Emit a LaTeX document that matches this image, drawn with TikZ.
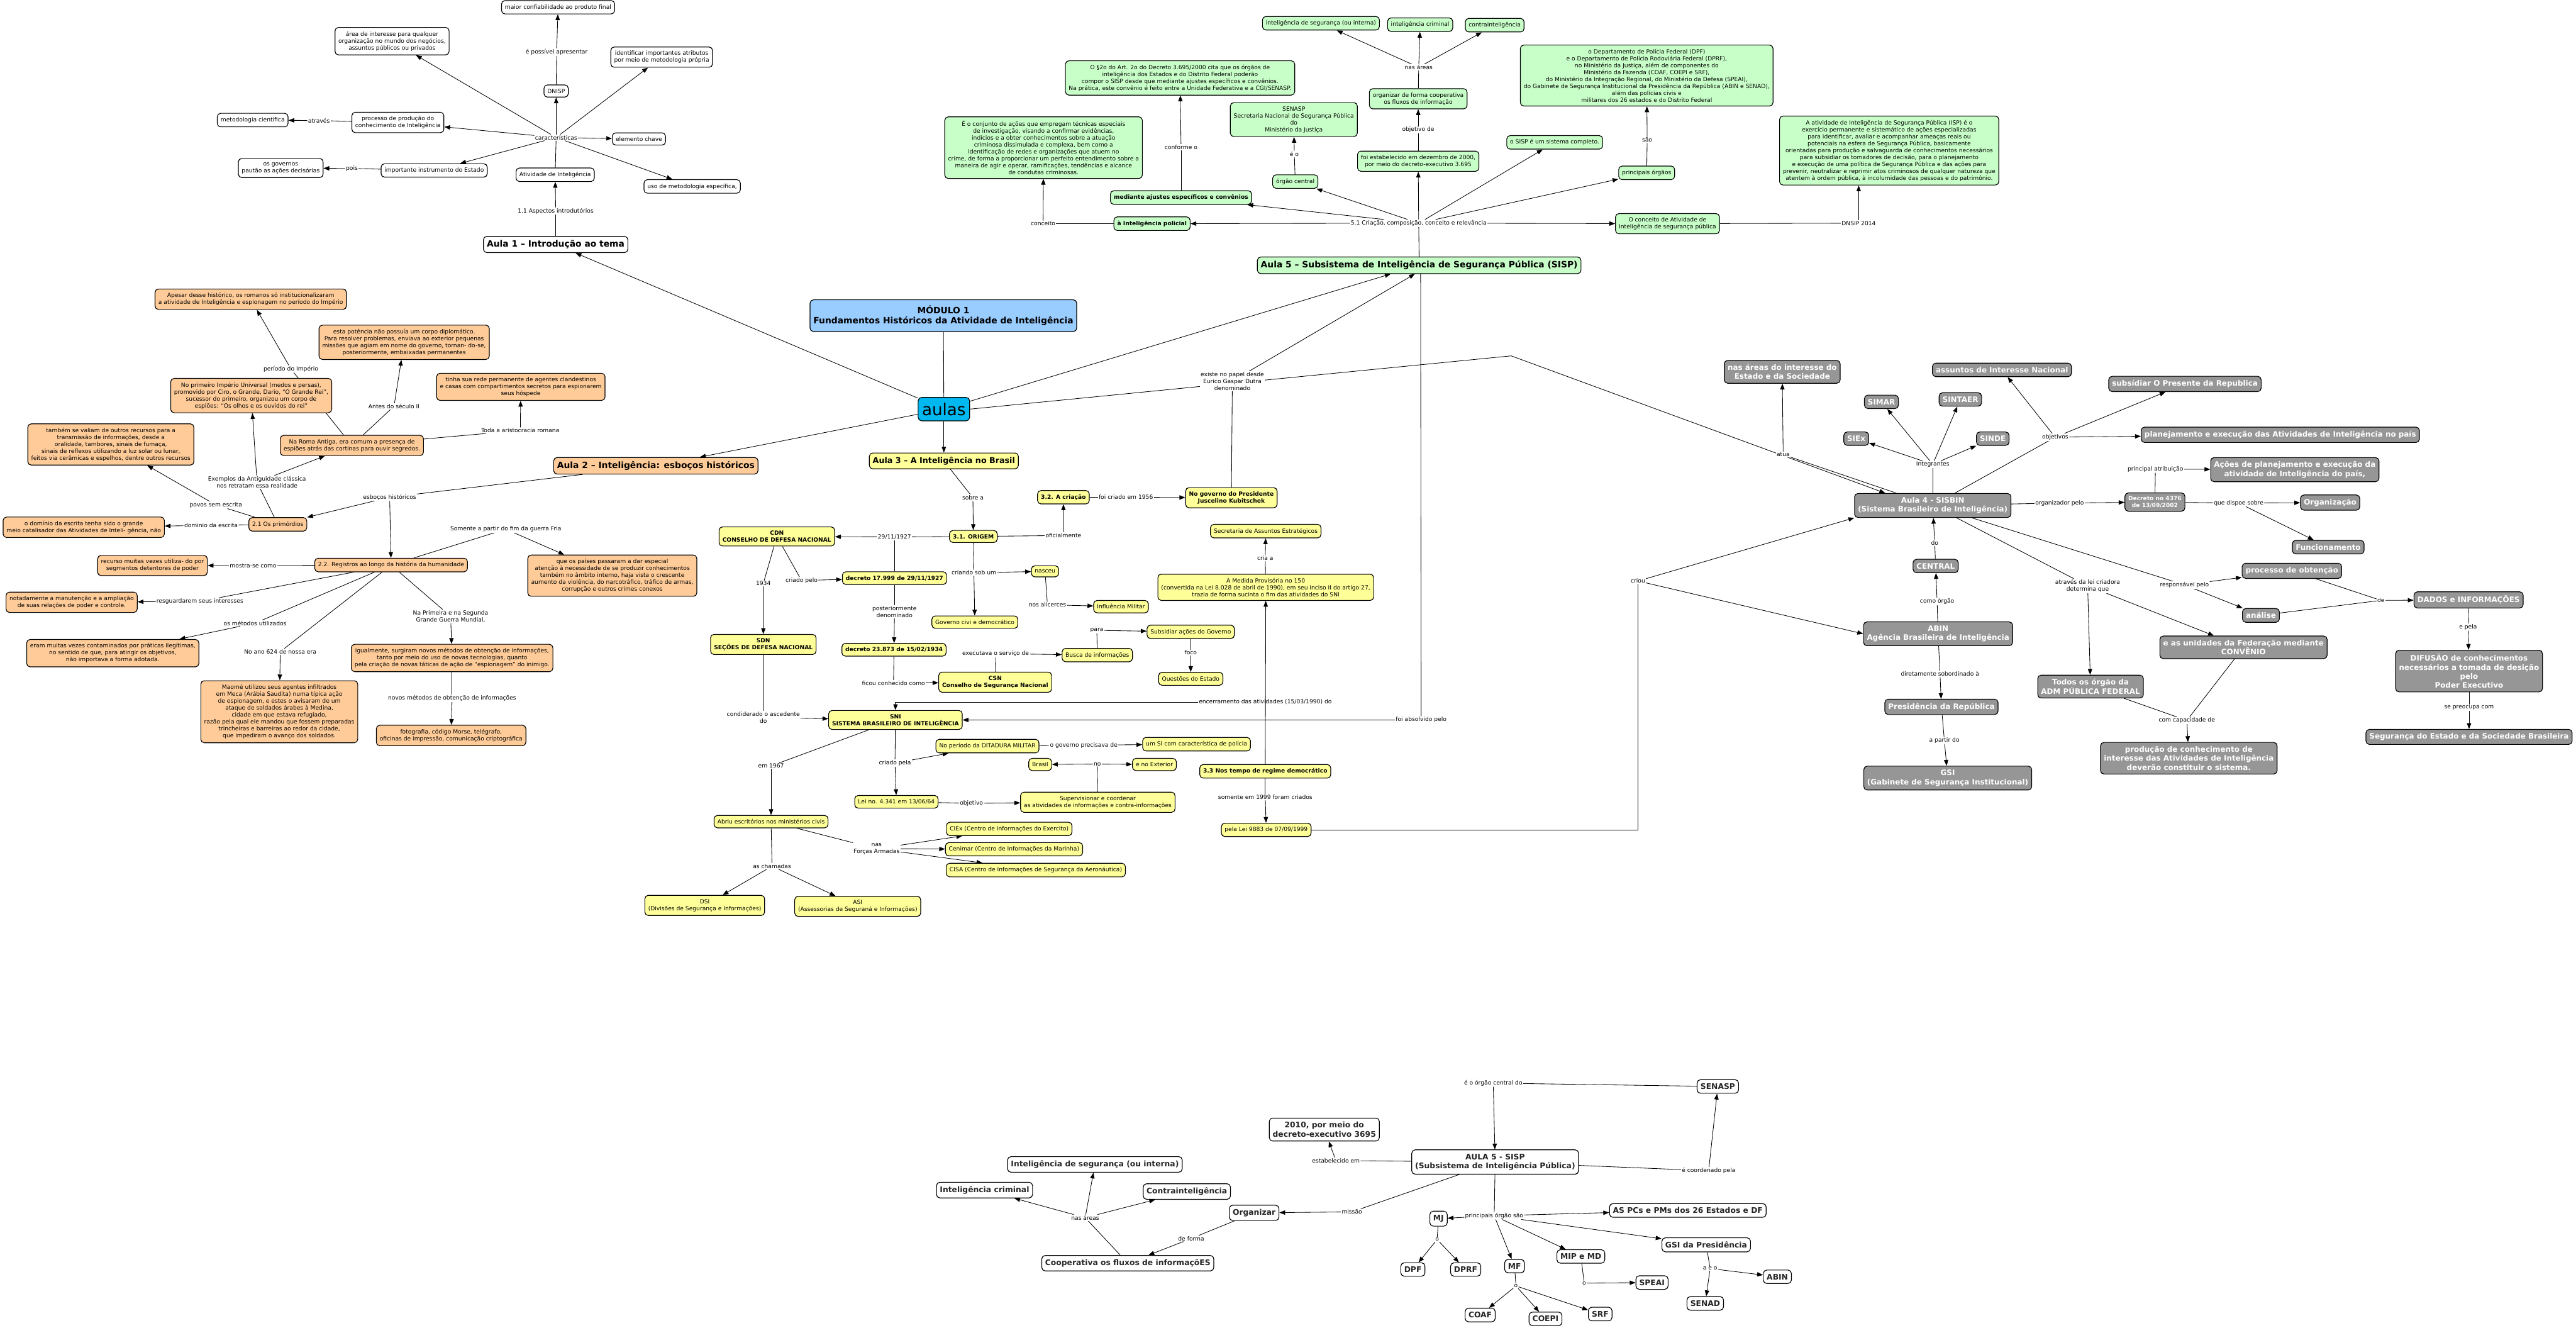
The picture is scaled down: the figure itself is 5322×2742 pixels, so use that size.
\documentclass[tikz,border=0pt]{standalone}
\usepackage{fontspec}
\setmainfont{DejaVu Sans}
\usetikzlibrary{arrows.meta,backgrounds}
\definecolor{cgreen}{HTML}{C8FFC8}
\definecolor{corange}{HTML}{FFCC99}
\definecolor{cyellow}{HTML}{FFFF99}
\definecolor{cgray}{HTML}{969696}
\definecolor{cblue}{HTML}{99CCFF}
\definecolor{ccyan}{HTML}{00B8F0}
\newcommand\fsS{\fontsize{11.9}{14.3}\selectfont}
\newcommand\fsT{\fontsize{18}{21}\selectfont\bfseries}
\newcommand\fsG{\fontsize{15.5}{18.5}\selectfont\bfseries}
\newcommand\fsB{\fontsize{16}{19}\selectfont\bfseries}
\newcommand\fsD{\fontsize{11.8}{14}\selectfont\bfseries}
\newcommand\cnL[2]{\draw[ln] (#1) -- (#2);}
\newcommand\cnA[2]{\draw[ar] (#1) -- (#2);}
\tikzset{
 cbox/.style={draw=black, rounded corners=7pt, line width=1.5pt, align=center, inner xsep=7pt, inner ysep=8pt, font=\fsS},
 wb/.style={cbox, fill=white},
 gb/.style={cbox, fill=cgreen},
 ob/.style={cbox, fill=corange},
 yb/.style={cbox, fill=cyellow},
 grb/.style={cbox, fill=cgray, text=white, font=\fsG},
 bb/.style={cbox, fill=white, font=\fsB, text=black!85},
 ttl/.style={font=\fsT},
 lb/.style={fill=white, inner sep=1.5pt, align=center, font=\fsS},
 ln/.style={line width=1.1pt},
 ar/.style={line width=1.1pt, -{Triangle[length=12pt,width=9pt]}},
}
\begin{document}
\begin{tikzpicture}[x=1pt,y=-1pt]
\useasboundingbox (0,0) rectangle (5322,2742);
% ---------------- centre
\node[cbox,fill=cblue,font=\fsT,inner ysep=12pt] (mod) at (1949,652) {MÓDULO 1\\Fundamentos Históricos da Atividade de Inteligência};
\node[cbox,fill=ccyan,font=\fontsize{34}{40}\selectfont,inner xsep=8pt,inner ysep=11pt] (aulas) at (1950,845) {aulas};
% ---------------- Aula 1
\node[wb,ttl] (a1) at (1148,505) {Aula 1 – Introdução ao tema};
\node[wb] (a1atv) at (1147,361) {Atividade de Inteligência};
\node[lb] (a1l11) at (1148,436) {1.1 Aspectos introdutórios};
\node[lb] (a1car) at (1149,284) {características};
\node[wb] (a1dnisp) at (1149,188) {DNISP};
\node[lb] (a1lposs) at (1150,108) {é possível apresentar};
\node[wb] (a1maior) at (1153,15) {maior confiabilidade ao produto final};
\node[wb] (a1ident) at (1367,118) {identificar importantes atributos\\por meio de metodologia própria};
\node[wb] (a1elem) at (1320,287) {elemento chave};
\node[wb] (a1uso) at (1430,385) {uso de metodologia específica,};
\node[wb] (a1imp) at (897,352) {importante instrumento do Estado};
\node[wb] (a1proc) at (822,253) {processo de produção do\\conhecimento de Inteligência};
\node[wb] (a1area) at (810,85) {área de interesse para qualquer\\organização no mundo dos negócios,\\assuntos públicos ou privados};
\node[wb] (a1met) at (522,248) {metodologia científica};
\node[lb] (a1latr) at (659,249) {através};
\node[wb] (a1gov) at (580,347) {os governos\\pautão as ações decisórias};
\node[lb] (a1lpois) at (727,348) {pois};
% ---------------- Aula 2
\node[ob,ttl] (a2) at (1355,962) {Aula 2 – Inteligência: esboços históricos};
\node[lb] (a2lesb) at (805,1027) {esboços históricos};
\node[ob] (a21) at (574,1083) {2.1 Os primórdios};
\node[ob] (a22) at (808,1167) {2.2. Registros ao longo da história da humanidade};
\node[ob] (a2dom) at (173,1089) {o domínio da escrita tenha sido o grande\\meio catalisador das Atividades de Inteli- gência, não};
\node[lb] (a2ldom) at (436,1085) {dominio da escrita};
\node[lb] (a2lpovos) at (446,1043) {povos sem escrita};
\node[ob] (a2tamb) at (229,918) {também se valiam de outros recursos para a\\transmissão de informações, desde a\\oralidade, tambores, sinais de fumaça,\\sinais de reflexos utilizando a luz solar ou lunar,\\feitos via cerâmicas e espelhos, dentre outros recursos};
\node[lb] (a2lex) at (531,996) {Exemplos da Antiguidade clássica\\nos retratam essa realidade};
\node[ob] (a2prim) at (519,817) {No primeiro Império Universal (medos e persas),\\promovido por Ciro, o Grande, Dario, “O Grande Rei”,\\sucessor do primeiro, organizou um corpo de\\espiões: “Os olhos e os ouvidos do rei”};
\node[ob] (a2roma) at (727,920) {Na Roma Antiga, era comum a presença de\\espiões atrás das cortinas para ouvir segredos.};
\node[lb] (a2lper) at (601,762) {período do Império};
\node[ob] (a2apesar) at (518,618) {Apesar desse histórico, os romanos só institucionalizaram\\a atividade de Inteligência e espionagem no período do Império};
\node[lb] (a2lantes) at (814,839) {Antes do século II};
\node[ob] (a2esta) at (835,707) {esta potência não possuía um corpo diplomático.\\Para resolver problemas, enviava ao exterior pequenas\\missões que agiam em nome do governo, tornan- do-se,\\posteriormente, embaixadas permanentes};
\node[lb] (a2ltoda) at (1075,889) {Toda a aristocracia romana};
\node[ob] (a2tinha) at (1076,799) {tinha sua rede permanente de agentes clandestinos\\e casas com compartimentos secretos para espionarem\\seus hóspede};
\node[lb] (a2lsom) at (1045,1093) {Somente a partir do fim da guerra Fria};
\node[ob] (a2que) at (1265,1189) {que os países passaram a dar especial\\atenção à necessidade de se produzir conhecimentos\\também no âmbito interno, haja vista o crescente\\aumento da violência, do narcotráfico, tráfico de armas,\\corrupção e outros crimes conexos};
\node[ob] (a2rec) at (315,1168) {recurso muitas vezes utiliza- do por\\segmentos detentores de poder};
\node[lb] (a2lmos) at (523,1168) {mostra-se como};
\node[ob] (a2not) at (148,1244) {notadamente a manutenção e a ampliação\\de suas relações de poder e controle.};
\node[lb] (a2lres) at (413,1242) {resguardarem seus interesses};
\node[lb] (a2lmet) at (527,1287) {os métodos utilizados};
\node[ob] (a2eram) at (233,1349) {eram muitas vezes contaminados por práticas ilegítimas,\\no sentido de que, para atingir os objetivos,\\não importava a forma adotada.};
\node[lb] (a2l624) at (579,1346) {No ano 624 de nossa era};
\node[ob] (a2maome) at (577,1470) {Maomé utilizou seus agentes infiltrados\\em Meca (Arábia Saudita) numa típica ação\\de espionagem, e estes o avisaram de um\\ataque de soldados árabes à Medina,\\cidade em que estava refugiado,\\razão pela qual ele mandou que fossem preparadas\\trincheiras e barreiras ao redor da cidade,\\que impediram o avanço dos soldados.};
\node[lb] (a2lguerra) at (931,1273) {Na Primeira e na Segunda\\Grande Guerra Mundial,};
\node[ob] (a2igual) at (934,1359) {igualmente, surgiram novos métodos de obtenção de informações,\\tanto por meio do uso de novas tecnologias, quanto\\pela criação de novas táticas de ação de “espionagem” do inimigo.};
\node[lb] (a2lnovos) at (934,1442) {novos métodos de obtenção de informações};
\node[ob] (a2foto) at (932,1519) {fotografia, código Morse, telégrafo,\\oficinas de impressão, comunicação criptográfica};
% ---------------- Aula 3
\node[yb,font=\fontsize{16.5}{20}\selectfont\bfseries] (a3) at (1950,952) {Aula 3 – A Inteligência no Brasil};
\node[lb] (a3lsob) at (2010,1028) {sobre a};
\node[yb,font=\fsS\bfseries] (a31) at (2011,1108) {3.1. ORIGEM};
\node[yb,font=\fsS\bfseries] (a32) at (2197,1027) {3.2. A criação};
\node[lb] (a3lofi) at (2197,1106) {oficialmente};
\node[lb] (a3lfoi) at (2326,1027) {foi criado em 1956};
\node[yb,font=\fsS\bfseries] (a3jk) at (2544,1028) {No governo do Presidente\\Juscelino Kubitschek};
\node[yb,font=\fsS\bfseries] (a3cdn) at (1605,1108) {CDN\\CONSELHO DE DEFESA NACIONAL};
\node[lb] (a3l29) at (1848,1109) {29/11/1927};
\node[yb,font=\fsS\bfseries] (a3d17) at (1848,1194) {decreto 17.999 de 29/11/1927};
\node[lb] (a3lcri) at (1656,1199) {criado pelo};
\node[lb] (a3l1934) at (1577,1205) {1934};
\node[yb,font=\fsS\bfseries] (a3sdn) at (1577,1331) {SDN\\SEÇÕES DE DEFESA NACIONAL};
\node[lb] (a3lpost) at (1848,1264) {posteriormente\\denominado};
\node[yb,font=\fsS\bfseries] (a3d23) at (1847,1342) {decreto 23.873 de 15/02/1934};
\node[lb] (a3lfic) at (1846,1411) {ficou conhecido como};
\node[yb,font=\fsS\bfseries] (a3csn) at (2056,1409) {CSN\\Conselho de Segurança Nacional};
\node[lb] (a3lexe) at (2057,1350) {executava o serviço de};
\node[yb] (a3busca) at (2267,1353) {Busca de informações};
\node[lb] (a3lpara) at (2266,1302) {para};
\node[yb] (a3sub) at (2460,1305) {Subsidiar ações do Governo};
\node[lb] (a3lfoco) at (2460,1348) {foco};
\node[yb] (a3quest) at (2460,1402) {Questões do Estado};
\node[lb] (a3lcria) at (2012,1183) {criando sob um};
\node[yb] (a3nasc) at (2159,1180) {nasceu};
\node[yb] (a3gov) at (2014,1285) {Governo civi e democrático};
\node[lb] (a3lalic) at (2164,1249) {nos alicerces};
\node[yb] (a3infl) at (2316,1253) {Influência Militar};
\node[yb,font=\fsS\bfseries] (a3sni) at (1850,1487) {SNI\\SISTEMA BRASILEIRO DE INTELIGÊNCIA};
\node[lb] (a3lasc) at (1577,1482) {condiderado o ascedente\\do};
\node[lb] (a3l1967) at (1593,1582) {em 1967};
\node[yb] (a3abriu) at (1593,1697) {Abriu escritórios nos ministérios civis};
\node[lb] (a3lcriada) at (1849,1576) {criado pela};
\node[yb] (a3dit) at (2040,1541) {No período da DITADURA MILITAR};
\node[lb] (a3lgovp) at (2239,1539) {o governo precisava de};
\node[yb] (a3si) at (2472,1537) {um SI com característica de polícia};
\node[yb] (a3lei) at (1852,1656) {Lei no. 4.341 em 13/06/64};
\node[lb] (a3lobj) at (2007,1659) {objetivo};
\node[yb] (a3sup) at (2268,1657) {Supervisionar e coordenar\\as atividades de informações e contra-informações};
\node[lb] (a3lno) at (2267,1578) {no};
\node[yb] (a3bras) at (2149,1579) {Brasil};
\node[yb] (a3ext) at (2385,1579) {e no Exterior};
\node[lb] (a3lforc) at (1811,1753) {nas\\Forças Armadas};
\node[yb] (a3ciex) at (2085,1712) {CIEx (Centro de Informações do Exercito)};
\node[yb] (a3cen) at (2095,1754) {Cenimar (Centro de Informações da Marinha)};
\node[yb] (a3cisa) at (2140,1797) {CISA (Centro de Informações de Segurança da Aeronáutica)};
\node[lb] (a3lcham) at (1595,1789) {as chamadas};
\node[yb] (a3dsi) at (1456,1870) {DSI\\(Divisões de Segurança e Informações)};
\node[yb] (a3asi) at (1772,1872) {ASI\\(Assessorias de Seguraná e Informações)};
\node[yb] (a3sae) at (2615,1097) {Secretaria de Assuntos Estratégicos};
\node[lb] (a3lcriaa) at (2614,1153) {cria a};
\node[yb] (a3mp) at (2615,1213) {A Medida Provisória no 150\\(convertida na Lei 8.028 de abril de 1990), em seu inciso II do artigo 27,\\trazia de forma sucinta o fim das atividades do SNI};
\node[lb,fill=none] (a3lenc) at (2614,1450) {encerramento das atividades (15/03/1990) do};
\node[yb,font=\fsS\bfseries] (a33) at (2614,1593) {3.3 Nos tempo de regime democrático};
\node[lb] (a3lsom) at (2614,1646) {somente em 1999 foram criados};
\node[yb] (a3lei99) at (2616,1714) {pela Lei 9883 de 07/09/1999};
\node[lb] (a5lexiste) at (2546,787) {existe no papel desde\\Eurico Gaspar Dutra\\denominado};
% ---------------- Aula 5
\node[gb,ttl] (a5) at (2932,548) {Aula 5 – Subsistema de Inteligência de Segurança Pública (SISP)};
\node[lb] (a5l51) at (2931,461) {5.1 Criação, composição, conceito e relevância};
\node[gb,font=\fsS\bfseries] (a5pol) at (2380,462) {à Inteligência policial};
\node[lb] (a5lconc) at (2155,462) {conceito};
\node[gb] (a5conj) at (2156,305) {É o conjunto de ações que empregam técnicas especiais\\de investigação, visando a confirmar evidências,\\indícios e a obter conhecimentos sobre a atuação\\criminosa dissimulada e complexa, bem como a\\identificação de redes e organizações que atuem no\\crime, de forma a proporcionar um perfeito entendimento sobre a\\maneira de agir e operar, ramificações, tendências e alcance\\de condutas criminosas.};
\node[gb,font=\fsS\bfseries] (a5med) at (2440,408) {mediante ajustes específicos e convênios};
\node[lb] (a5lconf) at (2440,304) {conforme o};
\node[gb] (a5par) at (2438,161) {O §2o do Art. 2o do Decreto 3.695/2000 cita que os órgãos de\\inteligência dos Estados e do Distrito Federal poderão\\compor o SISP desde que mediante ajustes específicos e convênios.\\Na prática, este convênio é feito entre a Unidade Federativa e a CGI/SENASP.};
\node[gb] (a5orgc) at (2676,375) {órgão central};
\node[lb] (a5leo) at (2674,318) {é o};
\node[gb] (a5senasp) at (2673,247) {SENASP\\Secretaria Nacional de Segurança Pública\\do\\Ministério da Justiça};
\node[gb] (a5est) at (2930,333) {foi estabelecido em dezembro de 2000,\\por meio do decreto-executivo 3.695};
\node[lb] (a5lobj) at (2930,268) {objetivo de};
\node[gb] (a5org) at (2930,204) {organizar de forma cooperativa\\os fluxos de informação};
\node[lb] (a5lnas) at (2931,139) {nas áreas};
\node[gb] (a5iseg) at (2729,48) {inteligência de segurança (ou interna)};
\node[gb] (a5icrim) at (2934,51) {inteligência criminal};
\node[gb] (a5contra) at (3088,52) {contrainteligência};
\node[gb] (a5sisp) at (3212,294) {o SISP é um sistema completo.};
\node[gb] (a5princ) at (3402,357) {principais órgãos};
\node[lb] (a5lsao) at (3403,289) {são};
\node[gb] (a5dep) at (3402,156) {o Departamento de Polícia Federal (DPF)\\e o Departamento de Polícia Rodoviária Federal (DPRF),\\no Ministério da Justiça, além de componentes do\\Ministério da Fazenda (COAF, COEPI e SRF),\\do Ministério da Integração Regional, do Ministério da Defesa (SPEAI),\\do Gabinete de Segurança Institucional da Presidência da República (ABIN e SENAD),\\além das polícias civis e\\militares dos 26 estados e do Distrito Federal};
\node[gb] (a5conc) at (3445,462) {O conceito de Atividade de\\Inteligência de segurança pública};
\node[lb] (a5ldnsip) at (3840,461) {DNSIP 2014};
\node[gb] (a5ativ) at (3903,311) {A atividade de Inteligência de Segurança Pública (ISP) é o\\exercício permanente e sistemático de ações especializadas\\para identificar, avaliar e acompanhar ameaças reais ou\\potenciais na esfera de Segurança Pública, basicamente\\orientadas para produção e salvaguarda de conhecimentos necessários\\para subsidiar os tomadores de decisão, para o planejamento\\e execução de uma política de Segurança Pública e das ações para\\prevenir, neutralizar e reprimir atos criminosos de qualquer natureza que\\atentem à ordem pública, à incolumidade das pessoas e do patrimônio.};
\node[lb] (a5lfoi) at (2936,1487) {foi absolvido pelo};
% ---------------- Aula 4
\node[grb] (a4) at (3993,1044) {Aula 4 - SISBIN\\(Sistema Brasileiro de Inteligência)};
\node[lb] (a4lcriou) at (3384,1200) {criou};
\node[lb] (a4latua) at (3684,939) {atua};
\node[grb] (a4nas) at (3682,768) {nas áreas do interesse do\\Estado e da Sociedade};
\node[lb] (a4lint) at (3993,959) {Integrantes};
\node[grb] (a4siex) at (3835,906) {SIEx};
\node[grb] (a4simar) at (3887,830) {SIMAR};
\node[grb] (a4sintaer) at (4050,825) {SINTAER};
\node[grb] (a4sinde) at (4117,906) {SINDE};
\node[lb] (a4lobj) at (4246,903) {objetivos};
\node[grb] (a4assu) at (4136,764) {assuntos de Interesse Nacional};
\node[grb] (a4subs) at (4514,793) {subsídiar O Presente da Republica};
\node[grb] (a4plan) at (4711,898) {planejamento e execução das Atividades de Inteligência no país};
\node[lb] (a4lorg) at (4255,1039) {organizador pelo};
\node[grb,font=\fsD,inner ysep=7pt] (a4dec) at (4452,1037) {Decreto no 4376\\de 13/09/2002};
\node[lb] (a4lpri) at (4453,969) {principal atribuição};
\node[grb] (a4acoes) at (4741,970) {Ações de planejamento e execução da\\atividade de Inteligência do país,};
\node[lb] (a4lque) at (4625,1039) {que dispoe sobre};
\node[grb] (a4orgz) at (4814,1038) {Organização};
\node[grb] (a4func) at (4810,1130) {Funcionamento};
\node[lb] (a4ldo) at (3997,1121) {do};
\node[grb] (a4cent) at (3999,1169) {CENTRAL};
\node[lb] (a4lcomo) at (4002,1242) {como órgão};
\node[grb] (a4abin) at (4004,1309) {ABIN\\Agência Brasileira de Inteligência};
\node[lb] (a4ldir) at (4008,1392) {diretamente sobordinado à};
\node[grb] (a4pres) at (4011,1460) {Presidência da República};
\node[lb] (a4lapar) at (4017,1529) {a partir do};
\node[grb] (a4gsi) at (4024,1607) {GSI\\(Gabinete de Segurança Institucional)};
\node[lb] (a4latr) at (4313,1210) {através da lei criadora\\determina que};
\node[grb] (a4todos) at (4319,1418) {Todos os órgão da\\ADM PÚBLICA FEDERAL};
\node[grb] (a4unid) at (4635,1337) {e as unidades da Federação mediante\\CONVÊNIO};
\node[lb] (a4lcap) at (4518,1488) {com capacidade de};
\node[grb] (a4prod) at (4522,1566) {produção de conhecimento de\\interesse das Atividades de Inteligência\\deverão constituir o sistema.};
\node[lb] (a4lresp) at (4513,1208) {responsável pelo};
\node[grb] (a4proc) at (4735,1179) {processo de obtenção};
\node[grb] (a4anal) at (4671,1271) {análise};
\node[lb] (a4lde) at (4919,1240) {de};
\node[grb] (a4dados) at (5100,1239) {DADOS e INFORMAÇÕES};
\node[lb] (a4lepela) at (5099,1295) {e pela};
\node[grb] (a4dif) at (5101,1386) {DIFUSÃO de conhecimentos\\necessários a tomada de desição\\pelo\\Poder Executivo};
\node[lb] (a4lse) at (5101,1462) {se preocupa com};
\node[grb] (a4seg) at (5101,1522) {Segurança do Estado e da Sociedade Brasileira};
% ---------------- bottom SISP
\node[bb] (s5) at (3089,2400) {AULA 5 - SISP\\(Subsistema de Inteligência Pública)};
\node[lb] (slorgc) at (3085,2237) {é o órgão central do};
\node[bb] (ssenasp) at (3549,2244) {SENASP};
\node[lb] (slcoord) at (3530,2418) {é coordenado pela};
\node[bb] (s2010) at (2736,2333) {2010, por meio do\\decreto-executivo 3695};
\node[lb] (slest) at (2760,2397) {estabelecido em};
\node[bb] (sorg) at (2591,2505) {Organizar};
\node[lb] (slmis) at (2793,2503) {missão};
\node[lb] (slforma) at (2461,2558) {de forma};
\node[bb] (scoop) at (2330,2609) {Cooperativa os fluxos de informaçõES};
\node[lb] (slnas) at (2242,2515) {nas áreas};
\node[bb] (siseg) at (2262,2405) {Inteligência de segurança (ou interna)};
\node[bb] (sicrim) at (2034,2458) {Inteligência criminal};
\node[bb] (scontra) at (2452,2461) {Contrainteligência};
\node[lb] (slprinc) at (3087,2511) {principais órgão são};
\node[bb] (smj) at (2972,2517) {MJ};
\node[bb] (spcs) at (3487,2500) {AS PCs e PMs dos 26 Estados e DF};
\node[bb] (sgsi) at (3525,2571) {GSI da Presidência};
\node[bb] (smip) at (3266,2595) {MIP e MD};
\node[bb] (smf) at (3129,2615) {MF};
\node[lb] (slomj) at (2969,2560) {o};
\node[bb] (sdpf) at (2919,2622) {DPF};
\node[bb] (sdprf) at (3028,2622) {DPRF};
\node[lb] (slomf) at (3132,2656) {o};
\node[bb] (scoaf) at (3058,2716) {COAF};
\node[bb] (scoepi) at (3193,2724) {COEPI};
\node[bb] (ssrf) at (3306,2714) {SRF};
\node[lb] (slomip) at (3273,2650) {o};
\node[bb] (sspeai) at (3413,2649) {SPEAI};
\node[lb] (slaeo) at (3533,2620) {a e o};
\node[bb] (sabin) at (3672,2637) {ABIN};
\node[bb] (ssenad) at (3523,2692) {SENAD};
% ================= connectors
\begin{pgfonlayer}{background}
\fill[white] (0,0) rectangle (5322,2742);
% centre
\cnL{mod}{aulas}
\cnA{aulas}{a1}
\cnA{aulas}{a2}
\cnA{aulas}{a3}
\cnA{aulas}{a5}
\coordinate (bendA) at (3122,735);
\draw[ar] (aulas.east) -- (bendA) -- ([xshift=64pt]a4.north west);
% Aula 1
\cnL{a1}{a1l11} \cnA{a1l11}{a1atv}
\cnL{a1atv}{a1car}
\cnA{a1car}{a1dnisp} \cnA{a1car}{a1ident} \cnA{a1car}{a1elem} \cnA{a1car}{a1uso}
\cnA{a1car}{a1imp} \cnA{a1car}{a1proc} \cnA{a1car}{a1area}
\cnL{a1dnisp}{a1lposs} \cnA{a1lposs}{a1maior}
\cnL{a1proc}{a1latr} \cnA{a1latr}{a1met}
\cnL{a1imp}{a1lpois} \cnA{a1lpois}{a1gov}
% Aula 2
\cnL{a2}{a2lesb} \cnA{a2lesb}{a21} \cnA{a2lesb}{a22}
\cnL{a21}{a2lpovos} \cnA{a2lpovos}{a2tamb}
\cnL{a21}{a2lex} \cnA{a2lex}{a2prim} \cnA{a2lex}{a2roma}
\cnL{a21}{a2ldom} \cnA{a2ldom}{a2dom}
\cnL{a2roma}{a2lper} \cnA{a2lper}{a2apesar}
\cnL{a2roma}{a2lantes} \cnA{a2lantes}{a2esta}
\cnL{a2roma}{a2ltoda} \cnA{a2ltoda}{a2tinha}
\cnL{a22}{a2lsom} \cnA{a2lsom}{a2que}
\cnL{a22}{a2lmos} \cnA{a2lmos}{a2rec}
\cnL{a22}{a2lres} \cnA{a2lres}{a2not}
\cnL{a22}{a2lmet} \cnA{a2lmet}{a2eram}
\cnL{a22}{a2l624} \cnA{a2l624}{a2maome}
\cnL{a22}{a2lguerra} \cnA{a2lguerra}{a2igual}
\cnL{a2igual}{a2lnovos} \cnA{a2lnovos}{a2foto}
% Aula 3
\cnL{a3}{a3lsob} \cnA{a3lsob}{a31}
\cnL{a31}{a3lofi} \cnA{a3lofi}{a32}
\cnL{a32}{a3lfoi} \cnA{a3lfoi}{a3jk}
\cnL{a3jk}{a5lexiste} \draw[ar] (a5lexiste) -- ([xshift=-9pt]a5.south);
\cnL{a31}{a3l29} \cnL{a3d17}{a3l29} \cnA{a3l29}{a3cdn}
\cnL{a3cdn}{a3lcri} \cnA{a3lcri}{a3d17}
\cnL{a3cdn}{a3l1934} \cnA{a3l1934}{a3sdn}
\cnL{a3d17}{a3lpost} \cnA{a3lpost}{a3d23}
\cnL{a3d23}{a3lfic} \cnA{a3lfic}{a3csn}
\cnL{a3csn}{a3lexe} \cnA{a3lexe}{a3busca}
\cnL{a3busca}{a3lpara} \cnA{a3lpara}{a3sub}
\cnL{a3sub}{a3lfoco} \cnA{a3lfoco}{a3quest}
\cnL{a31}{a3lcria} \cnA{a3lcria}{a3nasc} \cnA{a3lcria}{a3gov}
\cnL{a3nasc}{a3lalic} \cnA{a3lalic}{a3infl}
\cnL{a3sdn}{a3lasc} \cnA{a3lasc}{a3sni}
\cnL{a3sni}{a3l1967} \cnA{a3l1967}{a3abriu}
\cnL{a3sni}{a3lcriada} \cnA{a3lcriada}{a3lei} \cnA{a3lcriada}{a3dit}
\cnL{a3dit}{a3lgovp} \cnA{a3lgovp}{a3si}
\cnL{a3lei}{a3lobj} \cnA{a3lobj}{a3sup}
\cnL{a3sup}{a3lno} \cnA{a3lno}{a3bras} \cnA{a3lno}{a3ext}
\cnL{a3abriu}{a3lforc} \cnA{a3lforc}{a3ciex} \cnA{a3lforc}{a3cen} \cnA{a3lforc}{a3cisa}
\cnL{a3abriu}{a3lcham} \cnA{a3lcham}{a3dsi} \cnA{a3lcham}{a3asi}
\cnL{a3mp}{a3lcriaa} \cnA{a3lcriaa}{a3sae}
\draw[ar] (a33.north) -- (a3mp.south);
\draw[ar] (a3lenc.west) -- (a3sni.north |- a3lenc.west) -- (a3sni.north);
\cnL{a33}{a3lsom} \cnA{a3lsom}{a3lei99}
\draw[ln] (a3lei99.east) -| (a4lcriou.south);
% Aula 5
\cnL{a5}{a5l51}
\cnA{a5l51}{a5pol} \cnA{a5l51}{a5med} \cnA{a5l51}{a5orgc} \cnA{a5l51}{a5est}
\cnA{a5l51}{a5sisp} \cnA{a5l51}{a5princ} \cnA{a5l51}{a5conc}
\cnL{a5pol}{a5lconc} \cnA{a5lconc}{a5conj}
\cnL{a5med}{a5lconf} \cnA{a5lconf}{a5par}
\cnL{a5orgc}{a5leo} \cnA{a5leo}{a5senasp}
\cnL{a5est}{a5lobj} \cnA{a5lobj}{a5org}
\cnL{a5org}{a5lnas} \cnA{a5lnas}{a5iseg} \cnA{a5lnas}{a5icrim} \cnA{a5lnas}{a5contra}
\cnL{a5princ}{a5lsao} \cnA{a5lsao}{a5dep}
\cnL{a5conc}{a5ldnsip} \draw[ar] (a5ldnsip) -- (a5ldnsip |- a5ativ.south);
\draw[ln] ([xshift=3pt]a5.south) -- (a5lfoi);
\cnA{a5lfoi}{a3sni}
% Aula 4
\draw[ar] (a4lcriou) -- (a4.south west);
\draw[ar] (a4lcriou) -- (a4abin.west);
\cnL{a4}{a4latua} \cnA{a4latua}{a4nas}
\cnL{a4}{a4lint} \cnA{a4lint}{a4siex} \cnA{a4lint}{a4simar} \cnA{a4lint}{a4sintaer} \cnA{a4lint}{a4sinde}
\cnL{a4}{a4lobj} \cnA{a4lobj}{a4assu} \cnA{a4lobj}{a4subs} \cnA{a4lobj}{a4plan}
\cnL{a4}{a4lorg} \cnA{a4lorg}{a4dec}
\cnL{a4dec}{a4lpri} \cnA{a4lpri}{a4acoes}
\cnL{a4dec}{a4lque} \cnA{a4lque}{a4orgz} \cnA{a4lque}{a4func}
\cnL{a4cent}{a4ldo} \cnA{a4ldo}{a4}
\cnL{a4abin}{a4lcomo} \cnA{a4lcomo}{a4cent}
\cnL{a4abin}{a4ldir} \cnA{a4ldir}{a4pres}
\cnL{a4pres}{a4lapar} \cnA{a4lapar}{a4gsi}
\cnL{a4}{a4latr} \cnA{a4latr}{a4todos} \cnA{a4latr}{a4unid}
\cnL{a4todos}{a4lcap} \cnL{a4unid}{a4lcap} \cnA{a4lcap}{a4prod}
\cnL{a4}{a4lresp} \cnA{a4lresp}{a4proc} \cnA{a4lresp}{a4anal}
\cnL{a4proc}{a4lde} \cnL{a4anal}{a4lde} \cnA{a4lde}{a4dados}
\cnL{a4dados}{a4lepela} \cnA{a4lepela}{a4dif}
\cnL{a4dif}{a4lse} \cnA{a4lse}{a4seg}
% bottom SISP
\cnL{ssenasp}{slorgc} \cnA{slorgc}{s5}
\cnL{s5}{slcoord} \cnA{slcoord}{ssenasp}
\cnL{s5}{slest} \cnA{slest}{s2010}
\cnL{s5}{slmis} \cnA{slmis}{sorg}
\cnL{sorg}{slforma} \cnA{slforma}{scoop}
\cnL{scoop}{slnas} \cnA{slnas}{siseg} \cnA{slnas}{sicrim} \cnA{slnas}{scontra}
\cnL{s5}{slprinc} \cnA{slprinc}{smj} \cnA{slprinc}{spcs} \cnA{slprinc}{sgsi} \cnA{slprinc}{smip} \cnA{slprinc}{smf}
\cnL{smj}{slomj} \cnA{slomj}{sdpf} \cnA{slomj}{sdprf}
\cnL{smf}{slomf} \cnA{slomf}{scoaf} \cnA{slomf}{scoepi} \cnA{slomf}{ssrf}
\cnL{smip}{slomip} \cnA{slomip}{sspeai}
\cnL{sgsi}{slaeo} \cnA{slaeo}{sabin} \cnA{slaeo}{ssenad}
\end{pgfonlayer}
\end{tikzpicture}
\end{document}
